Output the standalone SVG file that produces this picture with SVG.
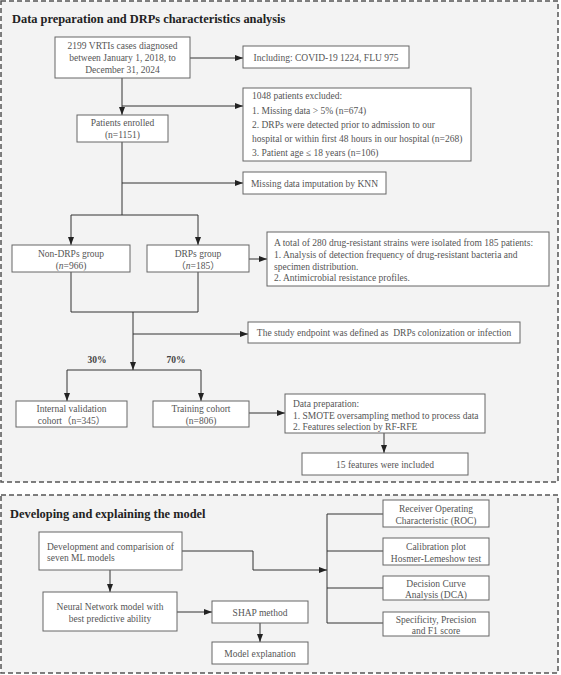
<svg xmlns="http://www.w3.org/2000/svg" width="561" height="675" viewBox="0 0 561 675">
<defs>
<marker id="arr" markerUnits="userSpaceOnUse" markerWidth="9" markerHeight="7" refX="8" refY="3" orient="auto">
<path d="M0,0 L8,3 L0,6 z" fill="#222"/>
</marker>
<style>
.panel{fill:#f3f3f3;stroke:#555;stroke-width:1.5;stroke-dasharray:5 3}
.box{fill:#fff;stroke:#666;stroke-width:1}
.t{font-family:"Liberation Serif","Noto Sans CJK SC",serif;font-size:9.5px;fill:#555}
.c{text-anchor:middle}
.title{font-family:"Liberation Serif",serif;font-size:12.4px;font-weight:bold;fill:#222}
.pct{font-family:"Liberation Serif",serif;font-size:9.5px;font-weight:bold;fill:#444;text-anchor:middle}
.ln{fill:none;stroke:#333;stroke-width:1}
.a{marker-end:url(#arr)}
</style>
</defs>
<rect width="561" height="675" fill="#fff"/>
<g id="panel1">
<rect class="panel" x="1" y="1" width="557" height="481"/>
<text class="title" x="12" y="23">Data preparation and DRPs characteristics analysis</text>
</g>
<g id="panel2">
<rect class="panel" x="1" y="495" width="557" height="178"/>
<text class="title" x="10" y="518">Developing and explaining the model</text>
</g>
<g id="connectors">
<path class="ln a" d="M190,58 H243"/>
<path class="ln a" d="M122,78 V115"/>
<path class="ln a" d="M122,106 H243"/>
<path class="ln" d="M122,142 V215"/>
<path class="ln a" d="M122,183 H243"/>
<path class="ln" d="M71,215 H198"/>
<path class="ln a" d="M71,215 V245"/>
<path class="ln a" d="M198,215 V245"/>
<path class="ln a" d="M249,259 H267"/>
<path class="ln" d="M71,272 V312 H198 V272"/>
<path class="ln a" d="M133,312 V370"/>
<path class="ln a" d="M133,334 H248"/>
<path class="ln" d="M67,370 H201"/>
<path class="ln a" d="M67,370 V401"/>
<path class="ln a" d="M201,370 V401"/>
<path class="ln a" d="M249,413 H285"/>
<path class="ln a" d="M384,433 V453"/>
<path class="ln a" d="M110,570 V592"/>
<path class="ln a" d="M177,612 H212"/>
<path class="ln a" d="M260,623 V642"/>
<path class="ln a" d="M182,551 H253 V570 H327"/>
<path class="ln" d="M327,514 V623"/>
<path class="ln" d="M327,514 H383 M327,551 H383 M327,588 H383 M327,623 H383"/>
<text class="pct" x="97" y="363">30%</text>
<text class="pct" x="176" y="363">70%</text>
</g>
<g id="n-vrti">
<rect class="box" x="55" y="37" width="135" height="41"/>
<text class="t c" x="122.5" y="49">2199 VRTIs cases diagnosed</text>
<text class="t c" x="122.5" y="61">between January 1, 2018, to</text>
<text class="t c" x="122.5" y="73">December 31, 2024</text>
</g>
<g id="n-including">
<rect class="box" x="243" y="46" width="166" height="22"/>
<text class="t c" x="326" y="60.5">Including: COVID-19 1224, FLU 975</text>
</g>
<g id="n-excluded">
<rect class="box" x="243" y="88" width="228" height="73"/>
<text class="t" x="252" y="99">1048 patients excluded:</text>
<text class="t" x="252" y="113.5">1. Missing data &gt; 5% (n=674)</text>
<text class="t" x="252" y="127.5">2. DRPs were detected prior to admission to our</text>
<text class="t" x="252" y="142">hospital or within first 48 hours in our hospital (n=268)</text>
<text class="t" x="252" y="156">3. Patient age ≤ 18 years (n=106)</text>
</g>
<g id="n-enrolled">
<rect class="box" x="77" y="115" width="91" height="27"/>
<text class="t c" x="122.5" y="126">Patients enrolled</text>
<text class="t c" x="122.5" y="138">(n=1151)</text>
</g>
<g id="n-knn">
<rect class="box" x="243" y="172" width="143" height="22"/>
<text class="t c" x="314.5" y="186.5">Missing data imputation by KNN</text>
</g>
<g id="n-nondrps">
<rect class="box" x="12" y="245" width="118" height="27"/>
<text class="t c" x="71" y="257">Non-DRPs group</text>
<text class="t c" x="71" y="269">(<tspan font-style="italic">n</tspan>=966)</text>
</g>
<g id="n-drps">
<rect class="box" x="147" y="245" width="102" height="27"/>
<text class="t c" x="198" y="257">DRPs group</text>
<text class="t c" x="198" y="269">（<tspan font-style="italic">n</tspan>=185）</text>
</g>
<g id="n-strains">
<rect class="box" x="267" y="232" width="282" height="54"/>
<text class="t" x="274" y="246">A total of 280 drug-resistant strains were isolated from 185 patients:</text>
<text class="t" x="274" y="257.5">1. Analysis of detection frequency of drug-resistant bacteria and</text>
<text class="t" x="274" y="269.5">specimen distribution.</text>
<text class="t" x="274" y="281">2. Antimicrobial resistance profiles.</text>
</g>
<g id="n-endpoint">
<rect class="box" x="248" y="322" width="272" height="21"/>
<text class="t c" x="384" y="336">The study endpoint was defined as&#160; DRPs colonization or infection</text>
</g>
<g id="n-internal">
<rect class="box" x="16" y="401" width="111" height="26"/>
<text class="t c" x="71.5" y="412">Internal validation</text>
<text class="t c" x="71.5" y="424">cohort（n=345）</text>
</g>
<g id="n-training">
<rect class="box" x="153" y="401" width="96" height="26"/>
<text class="t c" x="201" y="412">Training cohort</text>
<text class="t c" x="201" y="424">(n=806)</text>
</g>
<g id="n-dataprep">
<rect class="box" x="285" y="394" width="200" height="39"/>
<text class="t" x="293" y="407">Data preparation:</text>
<text class="t" x="293" y="418.5">1. SMOTE oversampling method to process data</text>
<text class="t" x="293" y="430">2. Features selection by RF-RFE</text>
</g>
<g id="n-features">
<rect class="box" x="302" y="453" width="166" height="22"/>
<text class="t c" x="385" y="467.5">15 features were included</text>
</g>
<g id="n-dev">
<rect class="box" x="39" y="532" width="143" height="38"/>
<text class="t" x="47" y="549.5">Development and comparision of</text>
<text class="t" x="47" y="561">seven ML models</text>
</g>
<g id="n-nn">
<rect class="box" x="43" y="592" width="134" height="39"/>
<text class="t c" x="110" y="610">Neural Network model with</text>
<text class="t c" x="110" y="621.5">best predictive ability</text>
</g>
<g id="n-shap">
<rect class="box" x="212" y="601" width="96" height="22"/>
<text class="t c" x="260" y="615.5">SHAP method</text>
</g>
<g id="n-explain">
<rect class="box" x="212" y="642" width="96" height="22"/>
<text class="t c" x="260" y="656.5">Model explanation</text>
</g>
<g id="n-roc">
<rect class="box" x="383" y="500" width="106" height="27"/>
<text class="t c" x="436" y="512">Receiver Operating</text>
<text class="t c" x="436" y="524">Characteristic (ROC)</text>
</g>
<g id="n-calib">
<rect class="box" x="383" y="538" width="106" height="27"/>
<text class="t c" x="436" y="550">Calibration plot</text>
<text class="t c" x="436" y="561.5">Hosmer-Lemeshow test</text>
</g>
<g id="n-dca">
<rect class="box" x="383" y="576" width="106" height="24"/>
<text class="t c" x="436" y="586.5">Decision Curve</text>
<text class="t c" x="436" y="598">Analysis (DCA)</text>
</g>
<g id="n-spec">
<rect class="box" x="383" y="612" width="106" height="24"/>
<text class="t c" x="436" y="622.5">Specificity, Precision</text>
<text class="t c" x="436" y="634">and F1 score</text>
</g>
</svg>
